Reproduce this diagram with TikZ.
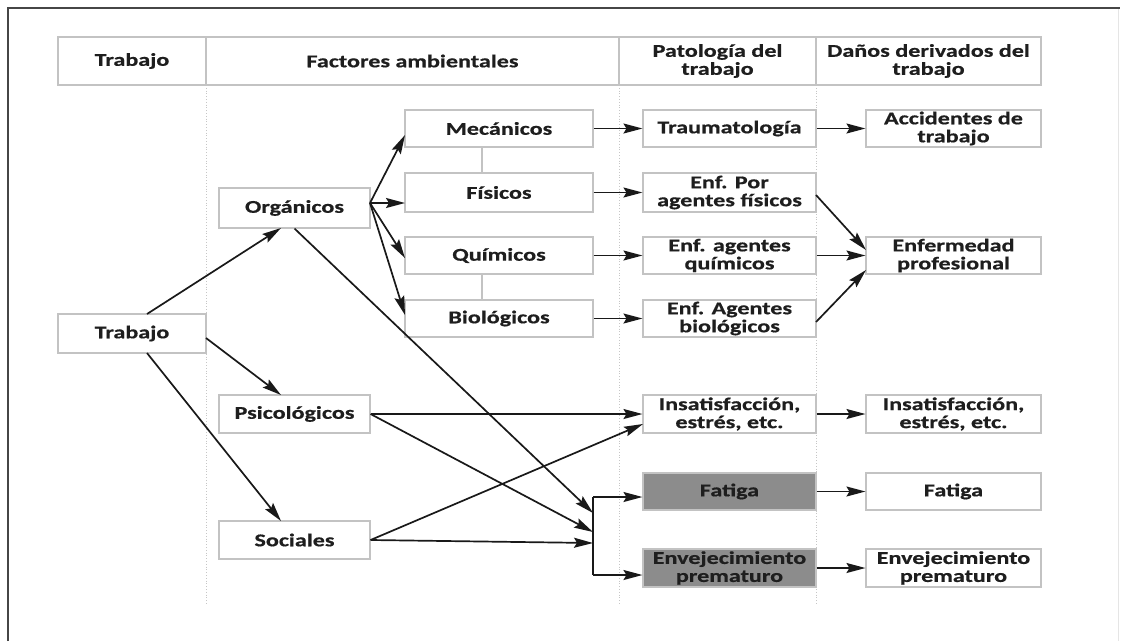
\documentclass[tikz,border=0pt]{standalone}
\usepackage{fontspec}
\setmainfont{Carlito}[FakeStretch=1.34, BoldFeatures={FakeBold=0.6}]
\usetikzlibrary{arrows.meta,calc}
\definecolor{txt}{RGB}{30,30,30}
\definecolor{bord}{RGB}{195,195,195}
\definecolor{shade}{RGB}{140,140,140}
\definecolor{frame}{RGB}{70,70,70}
\tikzset{
  box/.style={draw=bord, line width=1.1pt, fill=white, inner sep=0pt, align=center,
    text=txt, font=\fontsize{18}{18}\selectfont\bfseries, minimum height=38pt},
  hdr/.style={box, minimum height=48pt},
  c1/.style={box, minimum width=148pt},
  c2/.style={box, minimum width=151pt},
  c3/.style={box, minimum width=188pt},
  c4/.style={box, minimum width=173pt},
  c5/.style={box, minimum width=175pt},
  dark/.style={fill=shade},
  arr/.style={draw=black!90, line width=1.7pt, -{Stealth[length=19pt,width=10pt,inset=3pt]}},
  plain/.style={draw=black!90, line width=1.7pt},
  colline/.style={draw=gray!45, line width=0.8pt, dotted},
  link/.style={draw=bord, line width=1.1pt}
}
\begin{document}
\begin{tikzpicture}[x=1pt,y=-1pt]
\useasboundingbox[fill=white] (0,0) rectangle (1124,641);
% frame
\draw[draw=gray!20, line width=1pt] (1118,8) -- (1118,641);
\draw[draw=frame, line width=2.6pt] (8,641) -- (8,8) -- (1120,8);
% column lines
\draw[colline] (206,85) -- (206,605);
\draw[colline] (619,85) -- (619,605);
\draw[colline] (816,85) -- (816,605);
% headers
\node[hdr, minimum width=148pt] (h1) at (132,61) {Trabajo};
\node[hdr, minimum width=413pt] (h2) at (412.5,61) {Factores ambientales};
\node[hdr, minimum width=197pt] (h3) at (717.5,61) {Patología del\\trabajo};
\node[hdr, minimum width=225pt] (h4) at (928.5,61) {Daños derivados del\\trabajo};
% nodes
\node[c1, minimum height=39pt] (trab) at (132,333.5) {Trabajo};
\node[c2, minimum height=40pt] (org) at (294.5,208) {Orgánicos};
\node[c2] (psi) at (294.5,414) {Psicológicos};
\node[c2] (soc) at (294.5,540) {Sociales};
\node[c3, minimum height=37pt] (mec) at (499,128.5) {Mecánicos};
\node[c3, minimum height=39pt] (fis) at (499,192.5) {Físicos};
\node[c3, minimum height=37pt] (qui) at (499,255.5) {Químicos};
\node[c3, minimum height=37pt] (bio) at (499,318.5) {Biológicos};
\node[c4, minimum height=37pt] (trau) at (729.5,128.5) {Traumatología};
\node[c4, minimum height=39pt] (efis) at (729.5,192.5) {Enf. Por\\agentes físicos};
\node[c4, minimum height=37pt] (equi) at (729.5,255.5) {Enf. agentes\\químicos};
\node[c4, minimum height=37pt] (ebio) at (729.5,318.5) {Enf. Agentes\\biológicos};
\node[c4] (pins) at (729.5,414) {Insatisfacción,\\estrés, etc.};
\node[c4, dark, minimum height=37pt] (pfat) at (729.5,491.5) {Fatiga};
\node[c4, dark] (penv) at (729.5,568) {Envejecimiento\\prematuro};
\node[c5, minimum height=37pt] (acc) at (953.5,128.5) {Accidentes de\\trabajo};
\node[c5, minimum height=37pt] (enfp) at (953.5,255.5) {Enfermedad\\profesional};
\node[c5] (dins) at (953.5,414) {Insatisfacción,\\estrés, etc.};
\node[c5, minimum height=37pt] (dfat) at (953.5,491.5) {Fatiga};
\node[c5] (denv) at (953.5,568) {Envejecimiento\\prematuro};
% gray links
\draw[link] (482,147) -- (482,173);
\draw[link] (482,274) -- (482,300);
% helper coordinates
\coordinate (to1) at (147,314);
\coordinate (to2) at (206,338);
\coordinate (to3) at (147,353);
\coordinate (oin) at (281,228);
\coordinate (pin) at (281,395);
\coordinate (sin) at (281,521);
\coordinate (oo) at (370,203);
\coordinate (mecin) at (405,135);
\coordinate (fisin) at (405,203);
\coordinate (quiin) at (405,258);
\coordinate (bioin) at (405,315);
\coordinate (j1) at (593,513);
\coordinate (j2) at (593,532);
\coordinate (j3) at (593,543);
\coordinate (jt) at (593,497);
\coordinate (jb) at (593,575);
\coordinate (pinsin) at (643,424);
\coordinate (efo) at (816,195);
\coordinate (ebo) at (816,322);
\coordinate (en1) at (866,250);
\coordinate (en3) at (866,270);
% arrows
\draw[arr] (to1) -- (oin);
\draw[arr] (to2) -- (pin);
\draw[arr] (to3) -- (sin);
\draw[arr] (oo) -- (mecin);
\draw[arr] (oo) -- (fisin);
\draw[arr] (oo) -- (quiin);
\draw[arr] (oo) -- (bioin);
\draw[arr] (org.south) -- (j1);
\draw[arr] (psi.east) -- (j2);
\draw[arr] (soc.east) -- (j3);
\draw[plain] (jt) -- (jb);
\draw[arr] (jt) -- (jt -| pfat.west);
\draw[arr] (jb) -- (jb -| penv.west);
\draw[arr] (psi.east) -- (pins.west);
\draw[arr] (soc.east) -- (pinsin);
\draw[arr] (mec.east) -- (trau.west);
\draw[arr] (fis.east |- efis.east) -- (efis.east -| efis.west);
\draw[arr] (qui.east) -- (equi.west);
\draw[arr] (bio.east) -- (ebio.west);
\draw[arr] (trau.east) -- (acc.west);
\draw[arr] (efo) -- (en1);
\draw[arr] (equi.east) -- (enfp.west);
\draw[arr] (ebo) -- (en3);
\draw[arr] (pins.east) -- (dins.west);
\draw[arr] (pfat.east) -- (dfat.west);
\draw[arr] (penv.east) -- (denv.west);
\end{tikzpicture}
\end{document}
